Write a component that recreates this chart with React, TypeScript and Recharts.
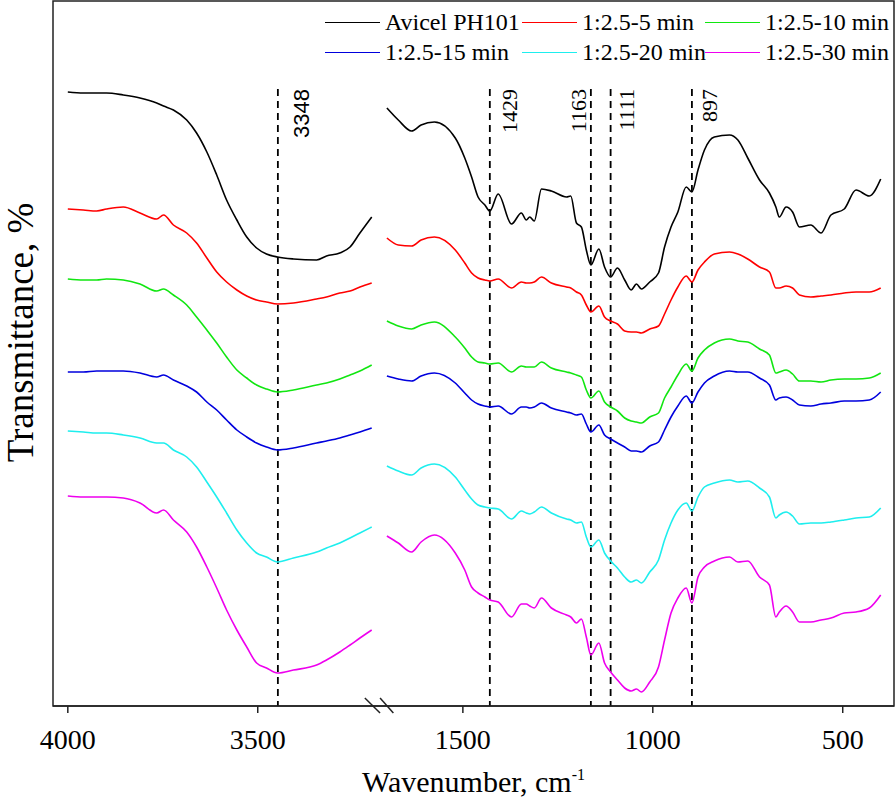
import React from 'react';
import { LineChart, Line, XAxis, YAxis, ReferenceLine, ReferenceArea } from 'recharts';

// wavenumbers (cm-1) of the two plotted windows
const leftWave = [4000, 3959, 3924, 3898, 3854, 3810, 3766, 3748, 3722, 3687, 3661, 3634, 3608, 3582, 3555, 3529, 3503, 3477, 3448, 3406, 3345, 3319, 3284, 3257, 3231, 3200];
const rightWave = [1700, 1670, 1635, 1610, 1575, 1520, 1495, 1477, 1460, 1442, 1429, 1407, 1372, 1346, 1333, 1324, 1312, 1293, 1267, 1227, 1216, 1201, 1188, 1175, 1163, 1142, 1127, 1111, 1093, 1074, 1057, 1043, 1030, 1008, 985, 969, 952, 934, 912, 897, 881, 864, 838, 798, 776, 750, 719, 693, 676, 667, 649, 632, 614, 584, 557, 531, 496, 465, 430, 400];

// transmittance (offset, arbitrary units)
const avicelLeft = [61.4, 61.3, 61.3, 61.3, 61.1, 60.8, 60.3, 60.0, 59.6, 58.6, 57.3, 55.4, 53.1, 50.6, 48.6, 46.9, 45.8, 45.2, 44.9, 44.7, 44.6, 45.0, 45.3, 45.9, 47.3, 48.9];
const min5Left = [49.7, 49.6, 49.5, 49.7, 49.9, 49.3, 48.7, 49.1, 48.1, 47.3, 46.3, 44.8, 43.4, 42.4, 41.6, 41.0, 40.6, 40.4, 40.2, 40.3, 40.7, 40.9, 41.3, 41.5, 41.9, 42.3];
const min10Left = [42.7, 42.6, 42.6, 42.7, 42.6, 42.2, 41.5, 41.7, 41.1, 40.1, 38.9, 37.6, 36.3, 34.9, 33.6, 32.8, 32.1, 31.7, 31.4, 31.6, 32.1, 32.3, 32.7, 33.1, 33.5, 34.1];
const min15Left = [33.4, 33.4, 33.5, 33.5, 33.5, 33.3, 32.9, 33.1, 32.6, 32.0, 31.4, 30.4, 29.6, 28.6, 27.6, 26.9, 26.3, 25.9, 25.6, 25.8, 26.3, 26.5, 26.8, 27.1, 27.4, 27.8];
const min20Left = [27.5, 27.4, 27.3, 27.3, 27.1, 26.8, 26.3, 26.3, 25.6, 24.9, 23.9, 22.4, 20.9, 19.3, 17.6, 16.3, 15.3, 14.9, 14.4, 14.8, 15.4, 15.8, 16.3, 16.8, 17.3, 17.9];
const min30Left = [21.0, 20.9, 20.9, 20.9, 20.8, 20.3, 19.3, 19.6, 18.6, 17.4, 15.9, 13.9, 11.8, 9.6, 7.6, 5.9, 4.3, 3.8, 3.3, 3.6, 4.1, 4.6, 5.4, 6.1, 6.8, 7.6];

const avicelRight = [59.8, 58.6, 57.5, 58.1, 58.4, 56.8, 54.8, 52.9, 50.9, 50.1, 49.5, 51.2, 48.2, 49.3, 48.6, 48.9, 48.5, 51.7, 51.5, 50.9, 51.0, 48.3, 47.9, 45.6, 44.1, 45.7, 43.9, 42.9, 43.8, 42.6, 41.6, 42.2, 41.7, 42.4, 43.3, 45.9, 47.9, 49.4, 51.9, 51.4, 53.6, 55.6, 56.9, 57.1, 56.6, 54.8, 52.6, 51.3, 49.9, 48.9, 49.9, 49.4, 47.9, 48.1, 47.3, 49.1, 49.7, 51.6, 51.0, 52.7];
const min5Right = [46.8, 46.1, 46.0, 46.6, 46.9, 45.6, 44.3, 43.3, 42.8, 42.6, 42.5, 42.7, 41.8, 42.4, 42.3, 42.3, 42.4, 42.9, 42.3, 41.9, 41.8, 41.4, 41.1, 40.1, 39.4, 40.0, 38.9, 38.5, 38.2, 37.5, 37.4, 37.4, 37.3, 37.7, 38.0, 39.2, 40.6, 41.9, 43.0, 42.4, 43.6, 44.4, 45.2, 45.4, 45.2, 44.7, 43.9, 43.4, 41.8, 41.8, 42.0, 41.8, 41.1, 40.9, 41.0, 41.1, 41.3, 41.4, 41.4, 41.8];
const min10Right = [38.5, 38.0, 37.7, 38.1, 38.4, 36.9, 35.8, 34.9, 34.4, 34.3, 34.2, 34.3, 33.4, 34.0, 33.9, 33.9, 33.9, 34.4, 33.8, 33.4, 33.3, 33.1, 32.9, 31.6, 30.8, 31.5, 30.4, 29.9, 29.5, 28.8, 28.5, 28.4, 28.3, 28.9, 29.3, 30.8, 31.9, 33.1, 34.2, 33.5, 34.8, 35.6, 36.3, 36.7, 36.5, 36.4, 35.7, 35.1, 33.3, 33.4, 33.6, 33.2, 32.5, 32.5, 32.4, 32.6, 32.7, 32.7, 32.8, 33.3];
const min15Right = [33.0, 32.7, 32.5, 33.0, 33.3, 32.3, 31.3, 30.6, 30.2, 30.0, 29.9, 30.0, 29.2, 29.9, 29.9, 29.8, 29.9, 30.3, 29.8, 29.4, 29.3, 29.1, 29.2, 28.2, 27.4, 28.1, 27.1, 26.7, 26.3, 25.9, 25.5, 25.5, 25.4, 26.0, 26.4, 27.6, 28.9, 30.0, 31.0, 30.3, 31.4, 32.3, 33.0, 33.5, 33.4, 33.4, 32.8, 32.1, 30.6, 30.8, 30.9, 30.6, 30.1, 30.0, 30.2, 30.3, 30.5, 30.5, 30.6, 31.4];
const min20Right = [24.0, 23.5, 23.1, 23.8, 24.2, 22.9, 21.6, 20.7, 20.1, 19.9, 19.8, 19.7, 18.7, 19.5, 19.3, 19.2, 19.4, 19.9, 19.3, 18.7, 18.6, 18.3, 18.4, 16.9, 15.9, 16.6, 15.3, 14.5, 13.8, 12.9, 12.4, 12.6, 12.3, 13.4, 14.6, 16.6, 18.3, 19.6, 20.3, 19.5, 20.9, 21.9, 22.3, 22.6, 22.4, 22.5, 21.8, 20.9, 18.8, 19.1, 19.4, 19.0, 18.2, 18.3, 18.3, 18.4, 18.6, 18.8, 18.9, 19.8];
const min30Right = [17.0, 16.3, 15.4, 16.4, 17.1, 15.3, 13.6, 11.9, 11.3, 10.9, 10.6, 10.4, 8.9, 10.2, 10.2, 10.0, 9.8, 10.8, 9.8, 9.1, 8.9, 8.3, 8.7, 6.9, 5.1, 6.3, 4.3, 3.4, 2.6, 1.8, 1.5, 1.7, 1.4, 2.4, 3.9, 6.6, 9.3, 10.8, 11.8, 10.3, 12.9, 13.9, 14.5, 14.9, 14.4, 14.5, 12.9, 12.1, 8.9, 9.4, 10.0, 9.4, 8.4, 8.4, 8.6, 8.8, 9.3, 9.4, 9.8, 11.1];

const tickLabels = [4000, 3500, 1500, 1000, 500];

// dashed markers: text shown, and where the line sits on the axis
const markers = [
  { text: '3348', at: 3447, dx: 24, sans: true },
  { text: '1429', at: 1429, dx: 20 },
  { text: '1163', at: 1163, dx: -12 },
  { text: '1111', at: 1111, dx: 16 },
  { text: '897', at: 897, dx: 18 },
];

const series = [
  { key: 'avicel', name: 'Avicel PH101', color: '#000000', left: avicelLeft, right: avicelRight },
  { key: 'm5', name: '1:2.5-5 min', color: '#ff0000', left: min5Left, right: min5Right },
  { key: 'm10', name: '1:2.5-10 min', color: '#11e611', left: min10Left, right: min10Right },
  { key: 'm15', name: '1:2.5-15 min', color: '#0000dd', left: min15Left, right: min15Right },
  { key: 'm20', name: '1:2.5-20 min', color: '#1eeeee', left: min20Left, right: min20Right },
  { key: 'm30', name: '1:2.5-30 min', color: '#ee00ee', left: min30Left, right: min30Right },
];

// broken axis: 4000-3200 then 1700-400 on one linear scale
const BREAK_U = 820;
const toAxis = (w: number) => (w >= 2000 ? 4000 - w : 2540 - w);
const fromAxis = (u: number) => String(u <= BREAK_U ? 4000 - u : 2540 - u);

const rows: any[] = [];
leftWave.forEach((w, i) => {
  const row: any = { u: toAxis(w) };
  series.forEach((s) => (row[s.key] = s.left[i]));
  rows.push(row);
});
const gap: any = { u: BREAK_U };
series.forEach((s) => (gap[s.key] = null));
rows.push(gap);
rightWave.forEach((w, i) => {
  const row: any = { u: toAxis(w) };
  series.forEach((s) => (row[s.key] = s.right[i]));
  rows.push(row);
});

const SERIF = '"Liberation Serif", "Times New Roman", serif';
const SANS = '"Liberation Sans", Arial, sans-serif';

const AxisTick = ({ x, y, payload }: any) => (
  <text x={x} y={y} dy={20} textAnchor="middle" fill="#000" fontFamily={SERIF} style={{ fontFamily: SERIF, fontSize: 28 }}>
    {fromAxis(payload.value)}
  </text>
);

const MarkerLabel = ({ viewBox, text, dx, sans }: any) => {
  const x = viewBox.x + dx;
  const y = viewBox.y;
  return (
    <text x={x} y={y} transform={`rotate(-90 ${x} ${y})`} textAnchor="end" dominantBaseline="central" fill="#000"
      style={{ fontFamily: sans ? SANS : SERIF, fontSize: 22 }}>
      {text}
    </text>
  );
};

const XTitle = ({ viewBox }: any) => (
  <text x={viewBox.x + viewBox.width / 2} y={viewBox.y + 86} textAnchor="middle" fill="#000"
    style={{ fontFamily: SERIF, fontSize: 30 }}>
    Wavenumber, cm
    <tspan dy={-12} style={{ fontSize: 16 }}>-1</tspan>
  </text>
);

// y title hangs off the plot frame
const YTitle = ({ viewBox }: any) => {
  const x = viewBox.x - 33;
  const y = viewBox.y + viewBox.height / 2 - 21;
  return (
    <text x={x} y={y} transform={`rotate(-90 ${x} ${y})`} textAnchor="middle" dominantBaseline="central" fill="#000"
      style={{ fontFamily: SERIF, fontSize: 37 }}>
      Transmittance, %
    </text>
  );
};

const legendCols = [325, 522, 705];

const App: React.FC = () => {
  return (
    <div style={{ position: 'absolute', left: 0, top: 0, width: 896, height: 801, background: '#fff', fontFamily: SERIF }}>
      <LineChart width={896} height={801} data={rows} margin={{ top: 1, right: 2, bottom: 0, left: 53 }}>
        <XAxis
          dataKey="u"
          type="number"
          domain={[-39, 2175]}
          allowDataOverflow
          ticks={tickLabels.map(toAxis)}
          interval={0}
          tickSize={7}
          tickMargin={16}
          height={95}
          axisLine={{ stroke: '#222', strokeWidth: 1.5 }}
          tickLine={{ stroke: '#222', strokeWidth: 1.5 }}
          tick={<AxisTick />}
          label={(p: any) => <XTitle {...p} />}
        />
        <YAxis type="number" domain={[0, 70.5]} width={0} tick={false} axisLine={false} tickLine={false} />
        <ReferenceArea
          x1={-39}
          x2={2175}
          y1={0}
          y2={70.5}
          fill="none"
          fillOpacity={0}
          stroke="#222"
          strokeWidth={1.5}
          label={(p: any) => <YTitle {...p} />}
        />
        {markers.map((m) => (
          <ReferenceLine
            key={m.text}
            segment={[{ x: toAxis(m.at), y: 61.7 }, { x: toAxis(m.at), y: 0 }]}
            stroke="#000"
            strokeWidth={1.8}
            strokeDasharray="7 5"
            label={(p: any) => <MarkerLabel {...p} text={m.text} dx={m.dx} sans={m.sans} />}
          />
        ))}
        <ReferenceLine segment={[{ x: BREAK_U - 38, y: 0.8 }, { x: BREAK_U + 2, y: -0.7 }]} stroke="#222" strokeWidth={1.5} ifOverflow="visible" />
        <ReferenceLine segment={[{ x: BREAK_U + 2, y: 0.8 }, { x: BREAK_U + 37, y: -0.7 }]} stroke="#222" strokeWidth={1.5} ifOverflow="visible" />
        {series.map((s) => (
          <Line
            key={s.key}
            type="monotone"
            dataKey={s.key}
            name={s.name}
            stroke={s.color}
            strokeWidth={1.6}
            dot={false}
            connectNulls={false}
            isAnimationActive={false}
          />
        ))}
      </LineChart>
      {series.map((s, i) => (
        <div
          key={s.key}
          style={{
            position: 'absolute',
            left: legendCols[i % 3],
            top: (i < 3 ? 22 : 52) - 15,
            height: 30,
            display: 'flex',
            alignItems: 'center',
            fontFamily: SERIF,
            fontSize: 24,
            whiteSpace: 'nowrap',
            color: '#000',
          }}
        >
          <span style={{ display: 'inline-block', width: 55, borderTop: `1.5px solid ${s.color}`, marginRight: 5 }} />
          {s.name}
        </div>
      ))}
    </div>
  );
};

export default App;
